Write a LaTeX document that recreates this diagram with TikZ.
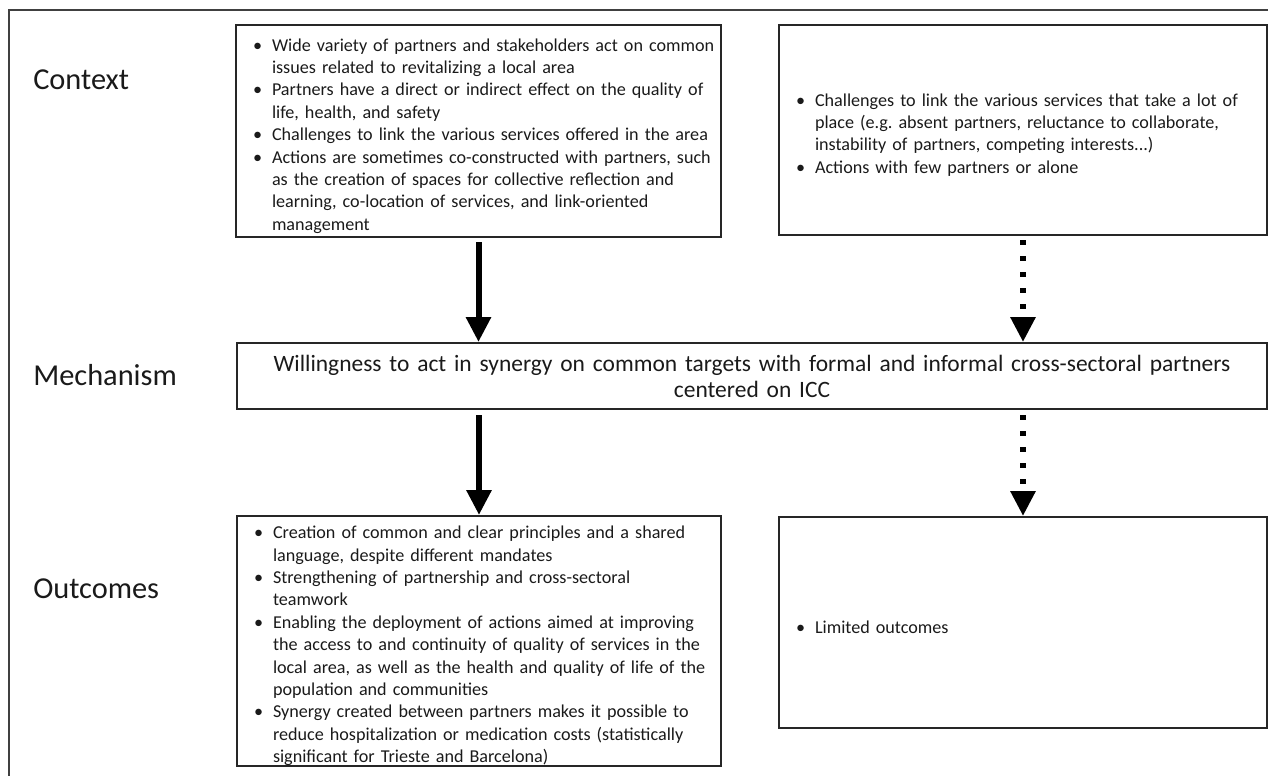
\documentclass[tikz,border=0pt]{standalone}
\usepackage{fontspec}
\setmainfont{Carlito}
\usepackage{tikz}
\usetikzlibrary{arrows.meta,positioning}
\definecolor{framegray}{HTML}{404040}
\definecolor{boxgray}{HTML}{262626}
\definecolor{textblack}{HTML}{1A1A1A}
\newcommand{\boxfont}{\fontsize{13.6}{16.8}\selectfont}
\newcommand{\mechfont}{\fontsize{17.6}{19.5}\selectfont}
\newcommand{\rowfont}{\fontsize{22.8}{26}\selectfont}
\newenvironment{pointlist}{%
  \begin{list}{\textbullet}{%
    \setlength{\leftmargin}{22.5pt}\setlength{\labelwidth}{14.25pt}%
    \setlength{\labelsep}{0pt}\setlength{\itemsep}{0pt}%
    \setlength{\parsep}{0pt}\setlength{\topsep}{0pt}%
    \setlength{\partopsep}{0pt}%
    \renewcommand{\makelabel}[1]{##1\hfil}}}%
  {\end{list}}
\tikzset{
  panel/.style={draw=boxgray,line width=1.5pt,anchor=north west,align=left,
    inner xsep=4.5pt,inner ysep=0pt,font=\boxfont,text=textblack},
  rowlabel/.style={anchor=west,inner sep=0pt,font=\rowfont,text=textblack},
  solidarrow/.style={line width=4.5pt,-{Triangle[width=18pt,length=18.75pt]}},
  dotarrow/.style={solidarrow,dash pattern=on 3.75pt off 8.25pt}
}
\begin{document}
\begin{tikzpicture}[x=0.75pt,y=-0.75pt]
    \useasboundingbox (0,0) rectangle (1268,776);
    \draw[framegray,line width=1.5pt] (1268,10)--(9,10)--(9,776);
    % row labels
    \node[rowlabel] (ctxlabel) at (33,80) {Context};
    \node[rowlabel] (mechlabel) at (33,375) {Mechanism};
    \node[rowlabel] (outlabel) at (33,589) {Outcomes};
    % context boxes
    \node[panel,text width=354.75pt,minimum height=159pt] (ctxL) at (235,24) {%
      \begin{pointlist}
        \item Wide variety of partners and stakeholders act on common\\ issues related to revitalizing a local area
        \item Partners have a direct or indirect effect on the quality of\\ life, health, and safety
        \item Challenges to link the various services offered in the area
        \item Actions are sometimes co-constructed with partners, such\\ as the creation of spaces for collective reflection and\\ learning, co-location of services, and link-oriented\\ management
      \end{pointlist}};
    \node[panel,text width=357pt,minimum height=157.5pt] (ctxR) at (778,24) {%
      \begin{pointlist}
        \item Challenges to link the various services that take a lot of\\ place (e.g.\ absent partners, reluctance to collaborate,\\ instability of partners, competing interests...)
        \item Actions with few partners or alone
      \end{pointlist}};
    % mechanism
    \node[panel,align=center,font=\mechfont,text width=763.5pt,minimum height=49.5pt] (mech) at (236,342)
      {Willingness to act in synergy on common targets with formal and informal cross-sectoral partners\\ centered on ICC};
    % outcome boxes
    \node[panel,text width=354pt,minimum height=187.5pt] (outL) at (236,515) {%
      \begin{pointlist}
        \item Creation of common and clear principles and a shared\\ language, despite different mandates
        \item Strengthening of partnership and cross-sectoral\\ teamwork
        \item Enabling the deployment of actions aimed at improving\\ the access to and continuity of quality of services in the\\ local area, as well as the health and quality of life of the\\ population and communities
        \item Synergy created between partners makes it possible to\\ reduce hospitalization or medication costs (statistically\\ significant for Trieste and Barcelona)
      \end{pointlist}};
    \node[panel,text width=357pt,minimum height=158.25pt] (outR) at (778,516) {%
      \begin{pointlist}
        \item Limited outcomes
      \end{pointlist}};
    % arrows
    \draw[solidarrow,shorten <=3pt] (ctxL.south) -- (ctxL.south |- mech.north);
    \draw[dotarrow,shorten <=3pt] (ctxR.south) -- (ctxR.south |- mech.north);
    \draw[solidarrow,shorten <=4pt] (mech.south -| outL.north) -- (outL.north);
    \draw[dotarrow,shorten <=4pt] (mech.south -| outR.north) -- (outR.north);
  \end{tikzpicture}
\end{document}
